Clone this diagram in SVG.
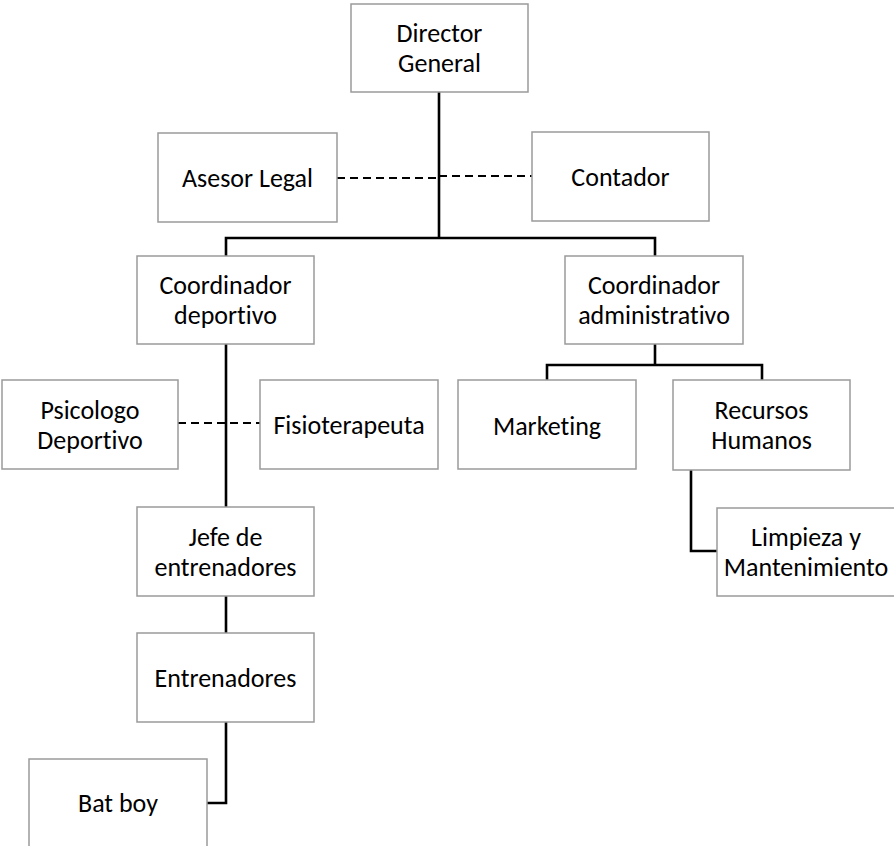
<svg xmlns="http://www.w3.org/2000/svg" width="894" height="846" viewBox="0 0 894 846">
<style>
.box{fill:#ffffff;stroke:#9a9a9a;stroke-width:1.5}
.t{font-family:Calibri,Carlito,"Liberation Sans",Arial,sans-serif;font-size:26px;fill:#000000;text-anchor:middle;font-variant-ligatures:none;font-feature-settings:"liga" 0,"clig" 0}
.ln{fill:none;stroke:#000000;stroke-width:2.6}
.dash{fill:none;stroke:#000000;stroke-width:2;stroke-dasharray:8,5}
</style>
<rect width="894" height="846" fill="#ffffff"/>
<g id="connectors">
<path class="ln" d="M439,92 V238 M226,256 V238 H655 V256"/>
<path class="dash" d="M337,178 H439 M439,176 H532"/>
<path class="ln" d="M226,344 V507"/>
<path class="dash" d="M178,423 H260"/>
<path class="ln" d="M655,344 V365 M547,380 V365 H762 V380"/>
<path class="ln" d="M691,469 V551 H717"/>
<path class="ln" d="M226,596 V633"/>
<path class="ln" d="M226,722 V803 H207"/>
</g>
<g id="director-general">
<rect class="box" x="351" y="4" width="177" height="88"/>
<text class="t" x="439.5" y="42">Director</text>
<text class="t" x="439.5" y="72">General</text>
</g>
<g id="asesor-legal">
<rect class="box" x="158" y="133" width="179" height="89"/>
<text class="t" x="247.5" y="187">Asesor Legal</text>
</g>
<g id="contador">
<rect class="box" x="532" y="132" width="177" height="89"/>
<text class="t" x="620.5" y="186">Contador</text>
</g>
<g id="coordinador-deportivo">
<rect class="box" x="137" y="256" width="177" height="88"/>
<text class="t" x="225.5" y="294">Coordinador</text>
<text class="t" x="225.5" y="324">deportivo</text>
</g>
<g id="coordinador-administrativo">
<rect class="box" x="565" y="256" width="178" height="88"/>
<text class="t" x="654" y="294">Coordinador</text>
<text class="t" x="654" y="324">administrativo</text>
</g>
<g id="psicologo-deportivo">
<rect class="box" x="2" y="380" width="176" height="89"/>
<text class="t" x="90" y="419">Psicologo</text>
<text class="t" x="90" y="449">Deportivo</text>
</g>
<g id="fisioterapeuta">
<rect class="box" x="260" y="380" width="178" height="89"/>
<text class="t" x="349" y="434">Fisioterapeuta</text>
</g>
<g id="marketing">
<rect class="box" x="458" y="380" width="178" height="89"/>
<text class="t" x="547" y="435">Marketing</text>
</g>
<g id="recursos-humanos">
<rect class="box" x="673" y="380" width="177" height="90"/>
<text class="t" x="761.5" y="419">Recursos</text>
<text class="t" x="761.5" y="449">Humanos</text>
</g>
<g id="limpieza-mantenimiento">
<rect class="box" x="717" y="508" width="178" height="88"/>
<text class="t" x="806" y="546">Limpieza y</text>
<text class="t" x="806" y="576">Mantenimiento</text>
</g>
<g id="jefe-entrenadores">
<rect class="box" x="137" y="507" width="177" height="89"/>
<text class="t" x="225.5" y="545.5">Jefe de</text>
<text class="t" x="225.5" y="575.5">entrenadores</text>
</g>
<g id="entrenadores">
<rect class="box" x="137" y="633" width="177" height="89"/>
<text class="t" x="225.5" y="687">Entrenadores</text>
</g>
<g id="bat-boy">
<rect class="box" x="29" y="759" width="178" height="90"/>
<text class="t" x="118" y="812">Bat boy</text>
</g>
</svg>
